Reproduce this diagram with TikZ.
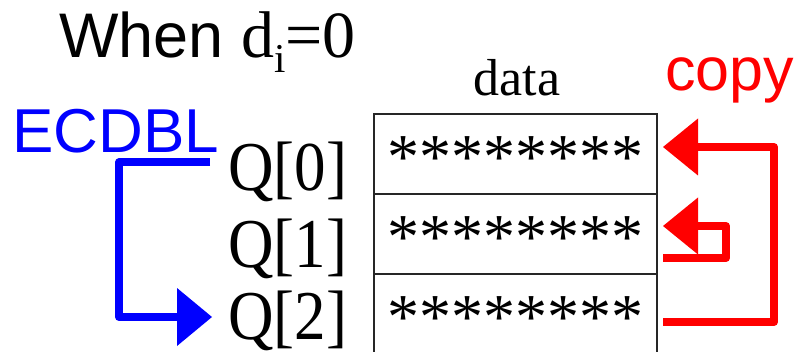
\documentclass[tikz,border=0pt]{standalone}
\usepackage{fontspec}
\usepackage{graphicx}
\setmainfont{Liberation Serif}
\newfontfamily\sansf{Liberation Sans}
\usetikzlibrary{arrows.meta}
\begin{document}
\begin{tikzpicture}[x=1pt,y=-1pt,
  rowbox/.style={draw=black!85,line width=1.6pt,minimum width=283pt,minimum height=80pt,inner sep=0pt,font=\fontsize{64}{64}\selectfont,text height=49pt,anchor=center},
  qlabel/.style={inner sep=0pt,anchor=base west,font=\fontsize{70}{70}\selectfont},
  plain/.style={inner sep=0pt,anchor=base west},
  bluearrow/.style={draw=blue,line width=8pt,line join=round,-{Triangle[length=35pt,width=58pt,line width=0pt]}},
  redarrow/.style={draw=red,line width=8pt,line join=round,-{Triangle[length=35pt,width=57pt,line width=0pt]}}]
\useasboundingbox (0,0) rectangle (802,352);
\clip (0,0) rectangle (802,352);

% title
\node[plain,font=\sansf\fontsize{63}{63}\selectfont] (when) at (59,58) {When};
\node[plain,font=\fontsize{66}{66}\selectfont] (cond) at (241,58) {d\raisebox{-15pt}{\fontsize{41}{41}\selectfont i}=0};

% labels
\node[plain,font=\fontsize{52}{52}\selectfont] (data) at (473.6,96) {data};
\node[plain,text=red,font=\sansf\fontsize{61}{61}\selectfont] (copy) at (665,91) {copy};
\node[plain,text=blue,font=\sansf\fontsize{62}{62}\selectfont] (ecdbl) at (12,153) {ECDBL};

% register labels
\node[qlabel] (q0) at (228,191) {\scalebox{0.9}[1]{Q[0]}};
\node[qlabel] (q1) at (228,268) {\scalebox{0.9}[1]{Q[1]}};
\node[qlabel] (q2) at (228,339) {\scalebox{0.9}[1]{Q[2]}};

% data rows
\node[rowbox] (r0) at (515.5,154) {********};
\node[rowbox] (r1) at (515.5,234) {********};
\node[rowbox] (r2) at (515.5,314) {********};

% ECDBL arrow
\coordinate (bs) at (210,162.5);
\coordinate (b1) at (119,162.5);
\coordinate (b2) at (119,317);
\coordinate (be) at (212,317);
\draw[bluearrow] (bs) -- (b1) -- (b2) -- (be);

% copy arrows
\coordinate (os) at (663,322);
\coordinate (o1) at (774,322);
\coordinate (o2) at (774,147);
\coordinate (oe) at (663,147);
\draw[redarrow] (os) -- (o1) -- (o2) -- (oe);

\coordinate (is) at (663,258);
\coordinate (i1) at (726,258);
\coordinate (i2) at (726,226);
\coordinate (ie) at (663,226);
\draw[redarrow] (is) -- (i1) -- (i2) -- (ie);
\end{tikzpicture}
\end{document}
